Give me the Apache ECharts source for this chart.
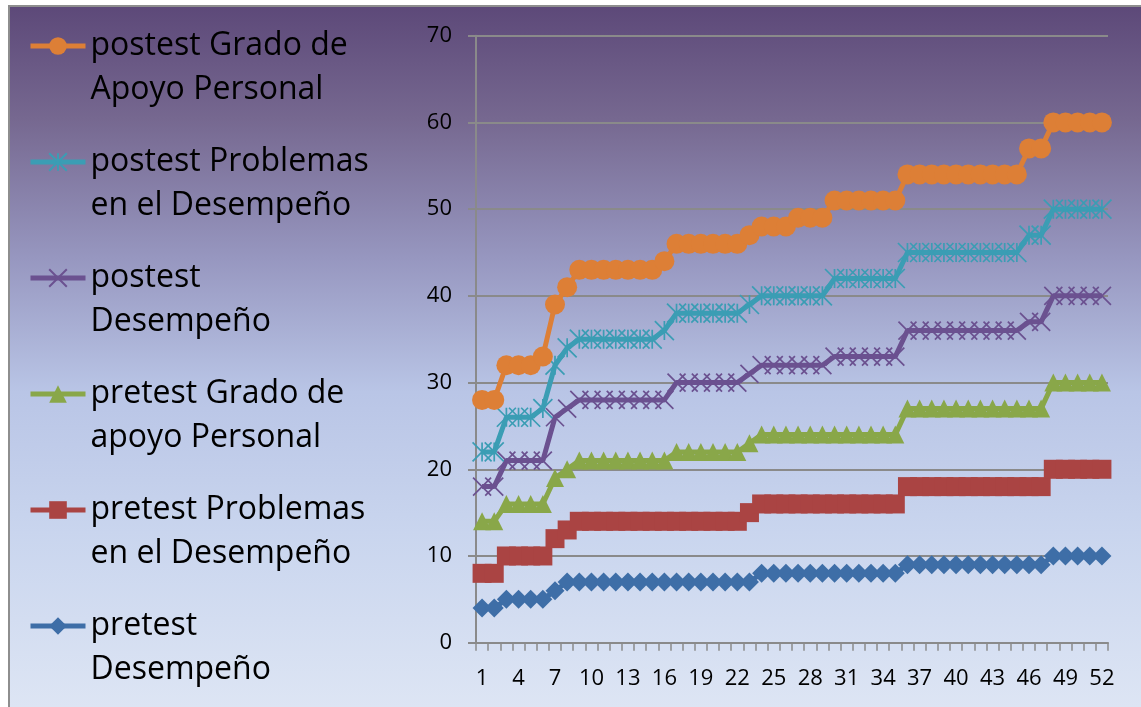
<!DOCTYPE html>
<html>
<head>
<meta charset="utf-8">
<title>Grado de Apoyo Personal</title>
<script src="https://cdn.jsdelivr.net/npm/echarts@6/dist/echarts.min.js"></script>
<style>
  html, body { margin: 0; padding: 0; background: #fff; }
  #wrap { position: relative; width: 1141px; height: 707px; overflow: hidden; }
  #bg {
    position: absolute; left: 8px; top: 5px; right: 0; bottom: 0;
    border-left: 2px solid #8e8e8e; border-top: 2px solid #8e8e8e;
    background: linear-gradient(to bottom, #5d4979 0%, #766890 16%, #9797c0 36%, #b9c5e6 55%, #c9d5ee 75%, #dde5f4 100%);
  }
  #chart { position: absolute; left: 0; top: 0; width: 1141px; height: 707px; }
</style>
</head>
<body>
<div id="wrap">
  <div id="bg"></div>
  <div id="chart"></div>
</div>
<script>
// eje x: casos 1..52
var categorias = ['1','2','3','4','5','6','7','8','9','10','11','12','13','14','15','16','17','18','19','20',
  '21','22','23','24','25','26','27','28','29','30','31','32','33','34','35','36','37','38','39','40',
  '41','42','43','44','45','46','47','48','49','50','51','52'];

// valores
var postestApoyo = [28,28,32,32,32,33,39,41,43,43,43,43,43,43,43,44,46,46,46,46,46,46,47,48,48,48,
  49,49,49,51,51,51,51,51,51,54,54,54,54,54,54,54,54,54,54,57,57,60,60,60,60,60];
var postestProblemas = [22,22,26,26,26,27,32,34,35,35,35,35,35,35,35,36,38,38,38,38,38,38,39,40,40,40,
  40,40,40,42,42,42,42,42,42,45,45,45,45,45,45,45,45,45,45,47,47,50,50,50,50,50];
var postestDesempeno = [18,18,21,21,21,21,26,27,28,28,28,28,28,28,28,28,30,30,30,30,30,30,31,32,32,32,
  32,32,32,33,33,33,33,33,33,36,36,36,36,36,36,36,36,36,36,37,37,40,40,40,40,40];
var pretestApoyo = [14,14,16,16,16,16,19,20,21,21,21,21,21,21,21,21,22,22,22,22,22,22,23,24,24,24,
  24,24,24,24,24,24,24,24,24,27,27,27,27,27,27,27,27,27,27,27,27,30,30,30,30,30];
var pretestProblemas = [8,8,10,10,10,10,12,13,14,14,14,14,14,14,14,14,14,14,14,14,14,14,15,16,16,16,
  16,16,16,16,16,16,16,16,16,18,18,18,18,18,18,18,18,18,18,18,18,20,20,20,20,20];
var pretestDesempeno = [4,4,5,5,5,5,6,7,7,7,7,7,7,7,7,7,7,7,7,7,7,7,7,8,8,8,
  8,8,8,8,8,8,8,8,8,9,9,9,9,9,9,9,9,9,9,9,9,10,10,10,10,10];

var yTicks = { min: 0, max: 70, interval: 10 };

// leyenda en dos lineas, como en el original
var leyenda = {
  'postest Grado de Apoyo Personal': ['postest Grado de', 'Apoyo Personal'],
  'postest Problemas en el Desempeño': ['postest Problemas', 'en el Desempeño'],
  'postest Desempeño': ['postest', 'Desempeño'],
  'pretest Grado de apoyo Personal': ['pretest Grado de', 'apoyo Personal'],
  'pretest Problemas en el Desempeño': ['pretest Problemas', 'en el Desempeño'],
  'pretest Desempeño': ['pretest', 'Desempeño']
};

var symX = 'path://M0,0L20,20M20,0L0,20';
var symStar = 'path://M0,0L20,20M20,0L0,20M10,0L10,20';

function serie(name, data, color, symbol, size, stroke) {
  return {
    name: name,
    type: 'line',
    data: data,
    symbol: symbol,
    symbolSize: size,
    showAllSymbol: true,
    itemStyle: {
      color: color,
      borderColor: color,
      borderWidth: stroke ? 1.7 : 0
    },
    lineStyle: { color: color, width: 5 },
    emphasis: { disabled: true }
  };
}

var chart = echarts.init(document.getElementById('chart'));

var option = {
  backgroundColor: 'transparent',
  animation: false,
  textStyle: { fontFamily: 'Open Sans' },
  grid: { left: 476, right: 33, top: 35.7, bottom: 64.3, containLabel: false },
  legend: {
    orient: 'vertical',
    left: 28,
    top: -20,
    padding: 0,
    itemGap: -16,
    itemWidth: 55,
    itemHeight: 22,
    selectedMode: false,
    lineStyle: { width: 5 },
    data: ['postest Grado de Apoyo Personal', 'postest Problemas en el Desempeño', 'postest Desempeño',
      'pretest Grado de apoyo Personal', 'pretest Problemas en el Desempeño', 'pretest Desempeño'],
    // linea vacia delante para que la primera linea quede a la altura del icono
    formatter: function (n) { return ' \n' + leyenda[n].join('\n'); },
    textStyle: {
      fontFamily: 'Open Sans',
      fontSize: 32,
      color: '#000',
      lineHeight: 44
    }
  },
  xAxis: {
    type: 'category',
    data: categorias,
    boundaryGap: true,
    axisLine: { lineStyle: { color: '#8a8a8a', width: 2 } },
    axisTick: { show: true, interval: 0, length: 8, lineStyle: { color: '#8a8a8a', width: 1.5 } },
    axisLabel: { interval: 2, margin: 25, fontSize: 22, color: '#000', fontFamily: 'Open Sans' },
    splitLine: { show: false }
  },
  yAxis: {
    type: 'value',
    min: yTicks.min,
    max: yTicks.max,
    interval: yTicks.interval,
    axisLine: { show: true, lineStyle: { color: '#8a8a8a', width: 2 } },
    axisTick: { show: true, length: 8, lineStyle: { color: '#8a8a8a', width: 2 } },
    axisLabel: { margin: 24, fontSize: 22, color: '#000', fontFamily: 'Open Sans' },
    splitLine: { show: true, lineStyle: { color: '#8a8a8a', width: 2 } }
  },
  series: [
    serie('pretest Desempeño', pretestDesempeno, '#3e6ea7', 'diamond', 19, false),
    serie('pretest Problemas en el Desempeño', pretestProblemas, '#aa4443', 'rect', 19, false),
    serie('pretest Grado de apoyo Personal', pretestApoyo, '#89a749', 'triangle', 18, false),
    serie('postest Desempeño', postestDesempeno, '#6b5190', symX, 18, true),
    serie('postest Problemas en el Desempeño', postestProblemas, '#3b9db4', symStar, 19, true),
    serie('postest Grado de Apoyo Personal', postestApoyo, '#dd7f36', 'circle', 20, false)
  ]
};

chart.setOption(option);
</script>
</body>
</html>
